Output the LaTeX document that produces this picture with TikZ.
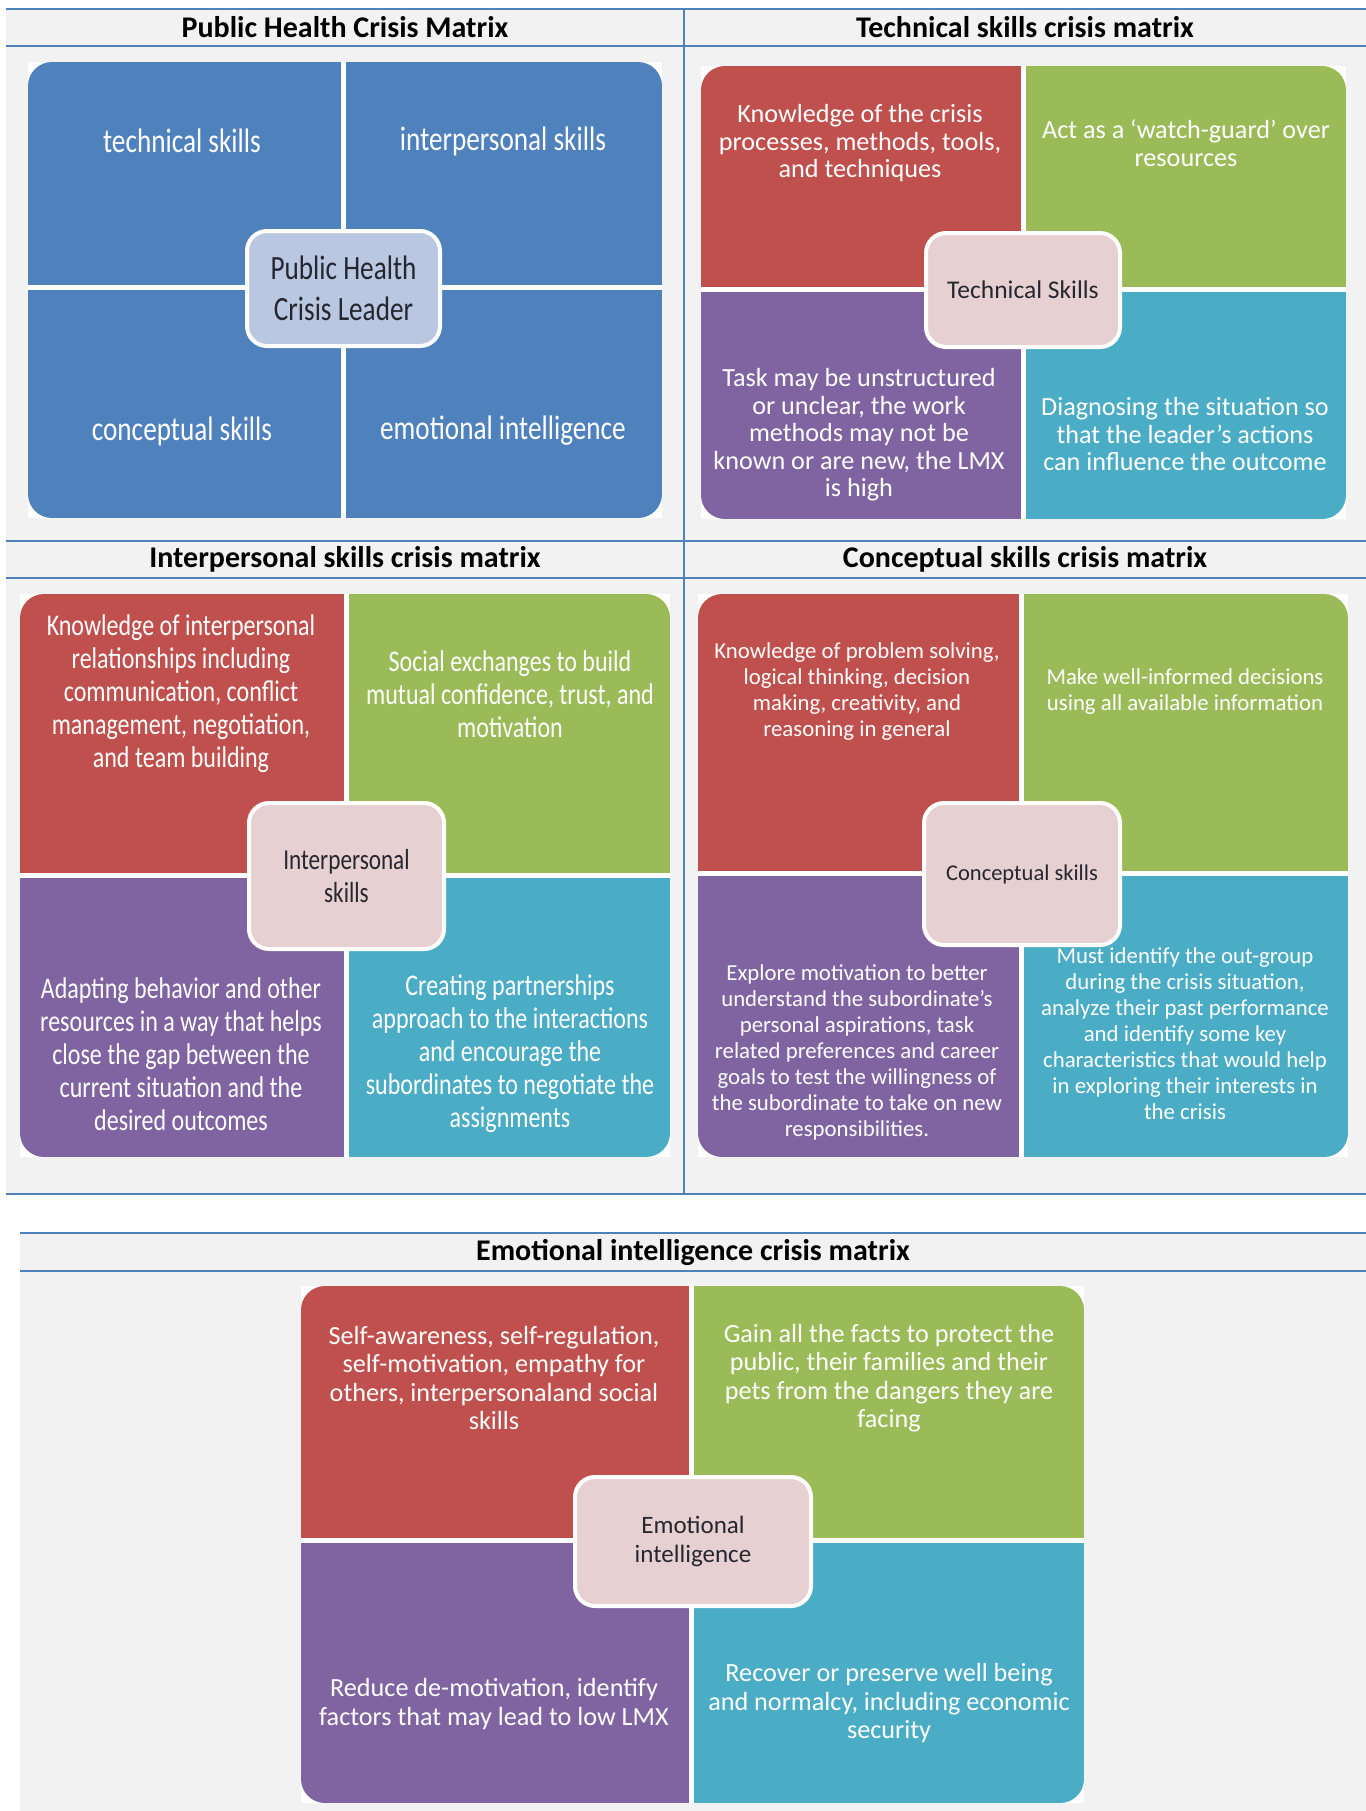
\documentclass[tikz,border=0pt]{standalone}
\usepackage{fontspec}
\setmainfont{Carlito}
\newfontfamily\narrowfont[FakeStretch=0.8]{Carlito}
\definecolor{rulecol}{HTML}{4F81BD}
\definecolor{panel}{HTML}{F2F2F2}
\definecolor{phblue}{HTML}{4F81BD}
\definecolor{phcore}{HTML}{B9C7E1}
\definecolor{qred}{HTML}{C0504D}
\definecolor{qgreen}{HTML}{9BBB59}
\definecolor{qpurple}{HTML}{8064A2}
\definecolor{qteal}{HTML}{4BACC6}
\definecolor{qcore}{HTML}{E6D0D1}
\definecolor{coretext}{HTML}{262630}
\tikzset{
  rule/.style={draw=rulecol, line width=1pt},
  gap/.style={draw=white, line width=2.5pt},
  heading/.style={font=\bfseries\fontsize{15}{18}\selectfont, inner sep=0pt},
  cell/.style={text=white, align=center, inner sep=0pt},
  core/.style={draw=white, line width=2pt, rounded corners=10pt,
    align=center, text=coretext, inner sep=0pt},
  bigcell/.style ={cell, font=\narrowfont\fontsize{17}{20}\selectfont},
  techcell/.style={cell, font=\fontsize{13.1}{13.75}\selectfont},
  perscell/.style={cell, font=\narrowfont\fontsize{15}{16.5}\selectfont},
  conccell/.style={cell, font=\fontsize{11.4}{13}\selectfont},
  emocell/.style ={cell, font=\fontsize{13.1}{14.25}\selectfont},
}
% four coloured quadrants: x1 y1 xm ym x2 y2
\newcommand{\crossgrid}[6]{%
  \fill[white] (#1,#2) rectangle (#5,#6);
  \begin{scope}
    \clip[rounded corners=12pt] (#1,#2) rectangle (#5,#6);
    \fill[qred]    (#1,#2) rectangle (#3,#4);
    \fill[qgreen]  (#3,#2) rectangle (#5,#4);
    \fill[qpurple] (#1,#4) rectangle (#3,#6);
    \fill[qteal]   (#3,#4) rectangle (#5,#6);
    \draw[gap] (#3,#2) -- (#3,#6);
    \draw[gap] (#1,#4) -- (#5,#4);
  \end{scope}}

\begin{document}
\begin{tikzpicture}[x=0.5pt, y=-0.5pt]
\useasboundingbox (0,0) rectangle (1366,1811);

%% ---- TABLE FRAMES ----
\fill[panel] (6,9) rectangle (1366,1194);
\fill[panel] (20,1233) rectangle (1366,1811);
\foreach \y in {9,46,541,578,1194}
  \draw[rule] (6,\y) -- (1366,\y);
\draw[rule] (684,9) -- (684,1194);
\foreach \y in {1233,1271}
  \draw[rule] (20,\y) -- (1366,\y);

%% ---- HEADINGS ----
\node[heading] (h-phc)  at (345,27.5)  {Public Health Crisis Matrix};
\node[heading] (h-tech) at (1025,27.5) {Technical skills crisis matrix};
\node[heading] (h-pers) at (345,559.5) {Interpersonal skills crisis matrix};
\node[heading] (h-conc) at (1025,559.5) {Conceptual skills crisis matrix};
\node[heading] (h-emo)  at (693,1252)  {Emotional intelligence crisis matrix};

%% ---- PUBLIC HEALTH CRISIS MATRIX ----
\fill[white] (28,62) rectangle (662,518);
\begin{scope}
  \clip[rounded corners=12pt] (28,62) rectangle (662,518);
  \fill[phblue] (28,62) rectangle (662,518);
  \draw[gap] (343,62) -- (343,518);
  \draw[gap] (28,287) -- (662,287);
\end{scope}
\node[core, fill=phcore, minimum width=96.5pt, minimum height=57.5pt,
      font=\narrowfont\fontsize{17}{20.5}\selectfont] (phc) at (343.5,288.5)
      {Public Health\\Crisis Leader};
\node[bigcell] (phc-tl) at (182,141) {technical skills};
\node[bigcell] (phc-tr) at (503,141) {interpersonal skills};
\node[bigcell] (phc-bl) at (182,431) {conceptual skills};
\node[bigcell] (phc-br) at (503,431) {emotional intelligence};

%% ---- TECHNICAL SKILLS ----
\crossgrid{701}{66}{1023}{289}{1346}{519}
\node[core, fill=qcore, minimum width=97pt, minimum height=57pt,
      font=\fontsize{12.75}{14}\selectfont] (tech) at (1023,290) {Technical Skills};
\node[techcell] (tech-tl) at (860,143.5)
  {Knowledge of the crisis\\processes, methods, tools,\\and techniques};
\node[techcell] (tech-tr) at (1186,143)
  {Act as a ‘watch-guard’ over\\resources};
\node[techcell] (tech-bl) at (859,435)
  {Task may be unstructured\\or unclear, the work\\methods may not be\\known or are new, the LMX\\is high};
\node[techcell] (tech-br) at (1185,434)
  {Diagnosing the situation so\\that the leader's actions\\can influence the outcome};

%% ---- INTERPERSONAL SKILLS ----
\crossgrid{20}{594}{346}{875}{670}{1157}
\node[core, fill=qcore, minimum width=97.5pt, minimum height=73pt,
      font=\narrowfont\fontsize{14.5}{16.5}\selectfont] (pers) at (346.5,876)
      {Interpersonal\\skills};
\node[perscell] (pers-tl) at (181,694)
  {Knowledge of interpersonal\\relationships including\\communication, conflict\\management, negotiation,\\and team building};
\node[perscell] (pers-tr) at (510,694)
  {Social exchanges to build\\mutual confidence, trust, and\\motivation};
\node[perscell] (pers-bl) at (181,1054)
  {Adapting behavior and other\\resources in a way that helps\\close the gap between the\\current situation and the\\desired outcomes};
\node[perscell] (pers-br) at (510,1054)
  {Creating partnerships\\approach to the interactions\\and encourage the\\subordinates to negotiate the\\assignments};

%% ---- CONCEPTUAL SKILLS ----
\crossgrid{698}{594}{1021}{873}{1348}{1157}
\node[core, fill=qcore, minimum width=98pt, minimum height=71pt,
      font=\fontsize{11.25}{13}\selectfont] (conc) at (1022,874) {Conceptual skills};
\node[conccell] (conc-tl) at (857,691.5)
  {Knowledge of problem solving,\\logical thinking, decision\\making, creativity, and\\reasoning in general};
\node[conccell] (conc-tr) at (1185,692)
  {Make well-informed decisions\\using all available information};
\node[conccell] (conc-bl) at (857,1052)
  {Explore motivation to better\\understand the subordinate's\\personal aspirations, task\\related preferences and career\\goals to test the willingness of\\the subordinate to take on new\\responsibilities.};
\node[conccell] (conc-br) at (1185,1034)
  {Must identify the out-group\\during the crisis situation,\\analyze their past performance\\and identify some key\\characteristics that would help\\in exploring their interests in\\the crisis};

%% ---- EMOTIONAL INTELLIGENCE ----
\crossgrid{301}{1286}{691}{1540}{1084}{1803}
\node[core, fill=qcore, minimum width=118pt, minimum height=64.5pt,
      font=\fontsize{12.5}{14.5}\selectfont] (emo) at (693,1541.5)
      {Emotional\\intelligence};
\node[emocell] (emo-tl) at (494,1378)
  {Self-awareness, self-regulation,\\self-motivation, empathy for\\others, interpersonaland social\\skills};
\node[emocell] (emo-tr) at (889,1378)
  {Gain all the facts to protect the\\public, their families and their\\pets from the dangers they are\\facing};
\node[emocell] (emo-bl) at (494,1704)
  {Reduce de-motivation, identify\\factors that may lead to low LMX};
\node[emocell] (emo-br) at (889,1703)
  {Recover or preserve well being\\and normalcy, including economic\\security};

\end{tikzpicture}
\end{document}
